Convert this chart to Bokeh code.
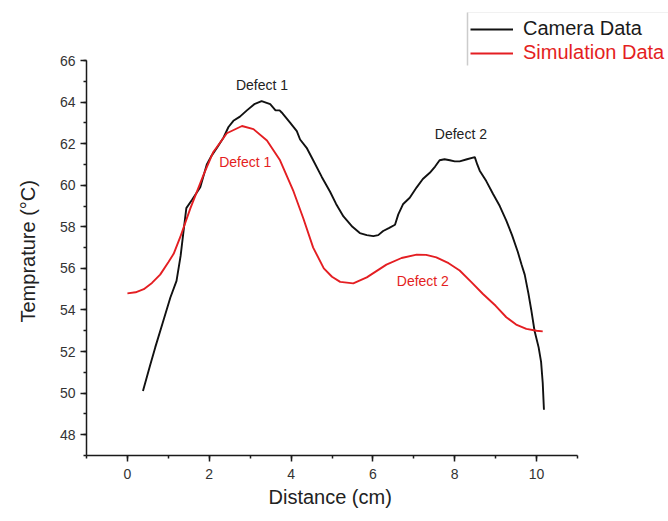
from bokeh.plotting import figure
from bokeh.models import (Legend, LegendItem, SingleIntervalTicker, Range1d,
                          Title, PolyAnnotation)
from bokeh.core.properties import value
from bokeh.embed import file_html
from bokeh.resources import INLINE

# Camera (thermal) measurement along the specimen
camera_x = [0.38, 0.55, 0.68, 0.85, 1.05, 1.2, 1.3, 1.36, 1.44, 1.58, 1.78, 1.94,
            2.05, 2.19, 2.35, 2.47, 2.59, 2.75, 2.92, 3.1, 3.28, 3.49, 3.62, 3.72,
            3.77, 3.98, 4.14, 4.22, 4.38, 4.54, 4.75, 4.95, 5.1, 5.28, 5.5, 5.68,
            5.85, 6.01, 6.13, 6.25, 6.4, 6.54, 6.62, 6.74, 6.9, 7.07, 7.22, 7.39,
            7.52, 7.63, 7.75, 7.88, 8.0, 8.12, 8.3, 8.49, 8.55, 8.61, 8.77, 8.93,
            9.1, 9.26, 9.4, 9.54, 9.63, 9.71, 9.8, 9.87, 9.95, 10.05, 10.11, 10.15,
            10.18]
camera_t = [50.1, 51.3, 52.2, 53.3, 54.6, 55.4, 56.6, 57.6, 58.9, 59.3, 59.9, 61.0,
            61.4, 61.8, 62.3, 62.8, 63.1, 63.3, 63.6, 63.9, 64.05, 63.9, 63.6, 63.6,
            63.5, 63.0, 62.6, 62.2, 61.8, 61.2, 60.4, 59.7, 59.1, 58.5, 58.0, 57.7,
            57.6, 57.55, 57.6, 57.8, 57.95, 58.1, 58.6, 59.1, 59.4, 59.9, 60.3, 60.6,
            60.9, 61.2, 61.25, 61.2, 61.15, 61.15, 61.25, 61.35, 61.0, 60.7, 60.2, 59.6,
            59.0, 58.3, 57.6, 56.8, 56.2, 55.7, 54.8, 54.0, 53.0, 52.2, 51.5, 50.5,
            49.2]

# Simulated temperature profile
sim_x = [0.0, 0.2, 0.4, 0.6, 0.8, 1.0, 1.13, 1.29, 1.54, 1.86, 2.1, 2.43, 2.8, 3.08,
         3.41, 3.73, 4.06, 4.3, 4.54, 4.8, 5.0, 5.2, 5.52, 5.85, 6.33, 6.7, 7.07, 7.3,
         7.55, 7.85, 8.12, 8.4, 8.69, 9.0, 9.26, 9.5, 9.75, 10.0, 10.15]
sim_t = [54.8, 54.85, 55.0, 55.3, 55.7, 56.3, 56.7, 57.5, 58.9, 60.5, 61.6, 62.5, 62.85,
         62.7, 62.15, 61.2, 59.7, 58.4, 57.0, 56.0, 55.6, 55.35, 55.28, 55.57, 56.18,
         56.5, 56.66, 56.65, 56.53, 56.25, 55.9, 55.35, 54.77, 54.2, 53.65, 53.3, 53.09,
         53.0, 52.97]

# Defect annotations
cam_labels = ["Defect 1", "Defect 2"]
cam_label_x = [3.29, 8.15]
cam_label_t = [64.8, 62.45]
sim_labels = ["Defect 1", "Defect 2"]
sim_label_x = [2.88, 7.22]
sim_label_t = [61.1, 55.4]

FONT = "Liberation Sans"
RED = "#e41e22"
INK = "#1a1a1a"

# The plotting area reaches the top and right edges of the canvas so the legend
# can sit above/right of the axes; the axes themselves are bounded to the data span.
X0, X1 = -1, 11
Y0, Y1 = 47, 66
px_per_x = 491 / (X1 - X0)
px_per_y = 395 / (Y1 - Y0)
frame_w, frame_h = 582, 455

p = figure(width=668, height=521, frame_width=frame_w, frame_height=frame_h,
           min_border_left=86, min_border_right=0, min_border_top=0,
           min_border_bottom=66, output_backend="svg", toolbar_location=None,
           x_range=Range1d(X0, X0 + frame_w / px_per_x),
           y_range=Range1d(Y0, Y0 + frame_h / px_per_y))

p.outline_line_color = None
p.grid.visible = False
p.background_fill_color = "white"
p.border_fill_color = "white"

cam = p.line(camera_x, camera_t, line_color="#111111", line_width=1.9)
sim = p.line(sim_x, sim_t, line_color=RED, line_width=1.9)

p.text(cam_label_x, cam_label_t, text=cam_labels, text_color="#222222",
       text_font=value(FONT), text_font_size="14px", text_align="center",
       text_baseline="middle")
p.text(sim_label_x, sim_label_t, text=sim_labels, text_color=RED,
       text_font=value(FONT), text_font_size="14px", text_align="center",
       text_baseline="middle")

p.xaxis.ticker = SingleIntervalTicker(interval=2, num_minor_ticks=2)
p.yaxis.ticker = SingleIntervalTicker(interval=2, num_minor_ticks=2)
p.xaxis.bounds = (X0, X1)
p.yaxis.bounds = (Y0, Y1)
for ax in (p.xaxis[0], p.yaxis[0]):
    ax.axis_line_color = INK
    ax.axis_line_width = 1.5
    ax.major_tick_line_color = INK
    ax.major_tick_line_width = 1.5
    ax.minor_tick_line_color = INK
    ax.minor_tick_line_width = 1.5
    ax.major_tick_out = 6
    ax.major_tick_in = 0
    ax.minor_tick_out = 3
    ax.minor_tick_in = 0
    ax.major_label_text_font = FONT
    ax.major_label_text_font_size = "14px"
    ax.major_label_text_color = "#333333"
p.xaxis.major_label_standoff = 7
p.yaxis.major_label_standoff = 5

# Axis titles, anchored to the start of the bounded axes
x_title = Title(text="Distance (cm)", align="left", offset=182, standoff=4,
                text_font=FONT, text_font_size="20px", text_font_style="normal",
                text_color="#222222")
p.add_layout(x_title, "below")
y_title = Title(text="Temprature (°C)", align="left", offset=133, standoff=31,
                vertical_align="top",
                text_font=FONT, text_font_size="20px", text_font_style="normal",
                text_color="#222222")
p.add_layout(y_title, "left")

# Legend: one entry per series so each label takes its series colour
common = dict(label_text_font=FONT, label_text_font_size="20px", glyph_width=43,
              glyph_height=20, label_height=20, label_standoff=10, padding=4,
              spacing=0, margin=0, border_line_color=None, background_fill_alpha=0)
leg_cam = Legend(items=[LegendItem(label="Camera Data", renderers=[cam])],
                 location=(384, 415), label_text_color="#1a1a1a", **common)
leg_sim = Legend(items=[LegendItem(label="Simulation Data", renderers=[sim])],
                 location=(384, 391), label_text_color=RED, **common)
p.add_layout(leg_cam, "center")
p.add_layout(leg_sim, "center")

# Legend frame edges
p.add_layout(PolyAnnotation(xs=[467, 467], ys=[12, 65], xs_units="canvas",
                            ys_units="canvas", line_color="#555555", line_width=1.5,
                            fill_alpha=0))
p.add_layout(PolyAnnotation(xs=[467, 668], ys=[12, 12], xs_units="canvas",
                            ys_units="canvas", line_color="#d0d0d0", line_width=1,
                            fill_alpha=0))

open("out.html", "w").write(file_html(p, INLINE))
